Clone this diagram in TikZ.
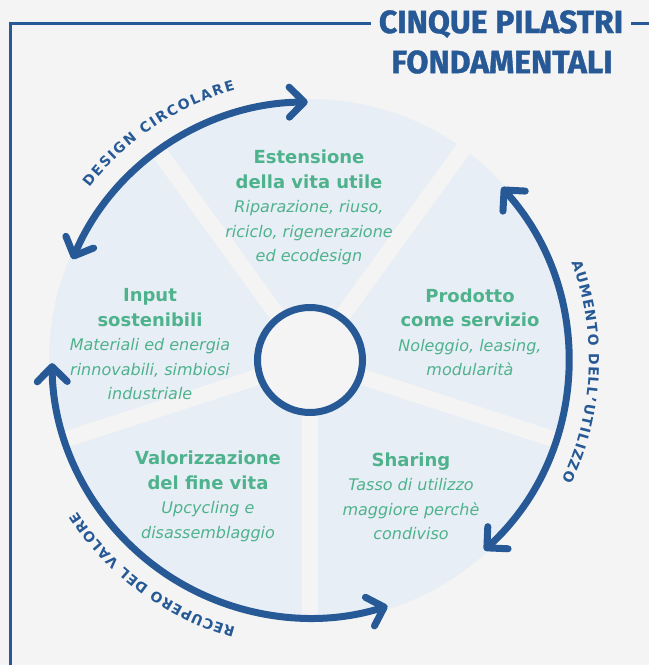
\documentclass[tikz,border=0pt]{standalone}
\usepackage{fontspec}
\setmainfont{DejaVu Sans}
\newfontfamily\titlefont{Fira Sans}[FakeBold=1.2]
\usetikzlibrary{arrows.meta,decorations.text}

\definecolor{navy}{RGB}{38,89,150}
\definecolor{mint}{RGB}{78,178,140}
\definecolor{pieblue}{RGB}{232,238,245}
\definecolor{paper}{RGB}{244,244,244}

\newcommand\pilhead[1]{{\fontsize{18}{24.5}\selectfont\bfseries\upshape #1}}
\newcommand\ringfont{\fontsize{14}{14}\selectfont\bfseries\color{navy}}

\begin{document}
\begin{tikzpicture}[x=1pt,y=1pt,
	barb/.tip={Straight Barb[length=15pt,width=30pt,round]},
	cycle arrow/.style={draw=navy,line width=7pt,barb-barb},
	gap/.style={draw=paper,line width=16pt},
	pillar/.style={text=mint,align=center,font=\fontsize{16}{24.5}\selectfont\itshape},
	ring/.style={decorate,decoration={text along path,text align=fit to path,text={|\ringfont|#1}}}]
	%background----------------------------
	\fill[paper] (0,0) rectangle (649,665);
	\useasboundingbox (0,0) rectangle (649,665);

	%wheel---------------------------------
	\coordinate (o) at (310,305);
	\fill[pieblue] (o) circle[radius=261]; %disc
	\foreach \a in {54,126,198,270,342}
		\draw[gap] (o) -- ++(\a:268); %slice gaps
	\node[circle,draw=navy,line width=7pt,fill=paper,minimum size=105pt,inner sep=0pt] (hub) at (o) {}; %hub

	%arrows and ring labels
	\begin{scope}[shift={(o)}]
		\draw[cycle arrow] (157:258) arc[start angle=157,end angle=90.5,radius=258]; %design
		\draw[cycle arrow] (42:258) arc[start angle=42,end angle=-47.5,radius=258]; %utilizzo
		\draw[cycle arrow] (180.7:258) arc[start angle=180.7,end angle=287.5,radius=258]; %valore

		\path[ring={DESIGN CIRCOLARE}] (142:280) arc[start angle=142,end angle=105.5,radius=280];
		\path[ring={AUMENTO DELL'UTILIZZO}] (20.5:279) arc[start angle=20.5,end angle=-25.5,radius=279];
		\path[ring={RECUPERO DEL VALORE}] (-105.5:278) arc[start angle=-105.5,end angle=-147,radius=278];
	\end{scope}

	%pillars-------------------------------
	\node[pillar] (vita) at (309,457.5) {\pilhead{Estensione}\\\pilhead{della vita utile}\\Riparazione, riuso,\\riciclo, rigenerazione\\ed ecodesign};
	\node[pillar] (input) at (150,320.5) {\pilhead{Input}\\\pilhead{sostenibili}\\Materiali ed energia\\rinnovabili, simbiosi\\industriale};
	\node[pillar] (servizio) at (470,332.5) {\pilhead{Prodotto}\\\pilhead{come servizio}\\Noleggio, leasing,\\modularità};
	\node[pillar] (fine) at (208,168.5) {\pilhead{Valorizzazione}\\\pilhead{del fine vita}\\Upcycling e\\disassemblaggio};
	\node[pillar] (sharing) at (411,168.5) {\pilhead{Sharing}\\Tasso di utilizzo\\maggiore perchè\\condiviso};

	%frame and title-----------------------
	\node[text=navy,font=\titlefont\bfseries\fontsize{32}{32}\selectfont,inner xsep=8pt] (title) at (501,641) {CINQUE PILASTRI};
	\node[text=navy,font=\titlefont\bfseries\fontsize{32}{32}\selectfont] (subtitle) at (502,603) {FONDAMENTALI};
	\draw[navy,line width=3pt] (10.5,0) |- (title.west);
	\draw[navy,line width=3pt] (title.east) -- (649,641);
\end{tikzpicture}
\end{document}
